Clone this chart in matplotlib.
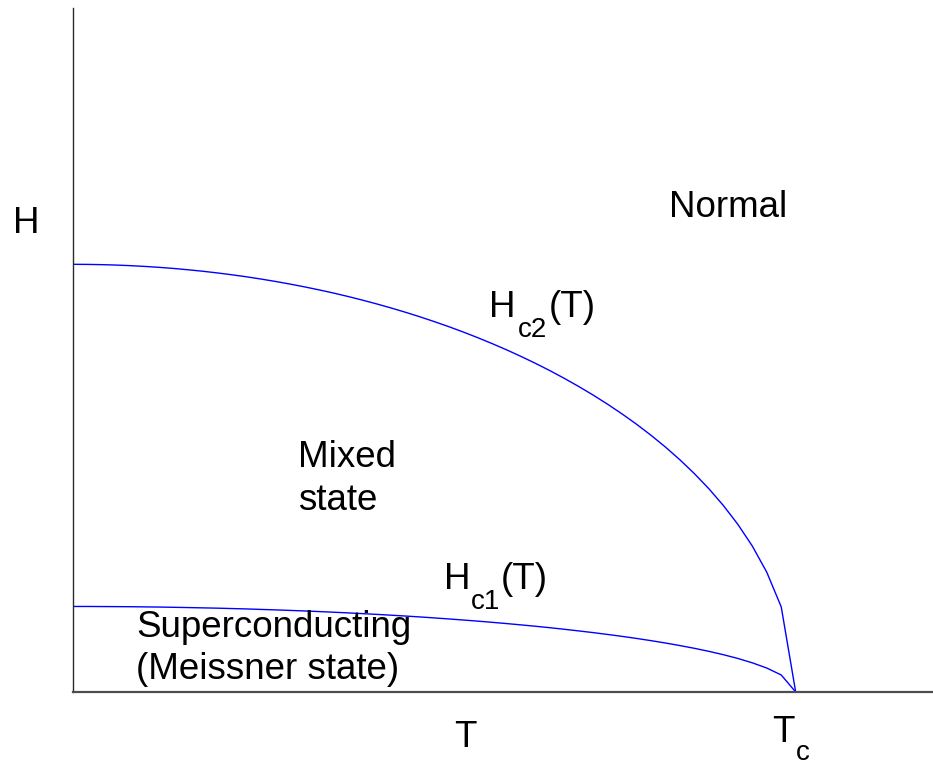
import numpy as np
import matplotlib
matplotlib.use("Agg")
import matplotlib.pyplot as plt

# Reduced temperature T/Tc, sampled every 0.02
temperature = np.linspace(0.0, 1.0, 51)

# Upper critical field Hc2(T) (normalised to Hc2(0))
hc2 = [1.0000, 0.9998, 0.9992, 0.9982, 0.9968, 0.9950, 0.9928, 0.9902, 0.9871,
       0.9837, 0.9798, 0.9755, 0.9708, 0.9656, 0.9600, 0.9539, 0.9474, 0.9404,
       0.9330, 0.9250, 0.9165, 0.9075, 0.8980, 0.8879, 0.8773, 0.8660, 0.8542,
       0.8417, 0.8285, 0.8146, 0.8000, 0.7846, 0.7684, 0.7513, 0.7332, 0.7141,
       0.6940, 0.6726, 0.6499, 0.6258, 0.6000, 0.5724, 0.5426, 0.5103, 0.4750,
       0.4359, 0.3919, 0.3412, 0.2800, 0.1990, 0.0000]

# Lower critical field Hc1(T)
hc1 = [0.2000, 0.2000, 0.1998, 0.1996, 0.1994, 0.1990, 0.1986, 0.1980, 0.1974,
       0.1967, 0.1960, 0.1951, 0.1942, 0.1931, 0.1920, 0.1908, 0.1895, 0.1881,
       0.1866, 0.1850, 0.1833, 0.1815, 0.1796, 0.1776, 0.1755, 0.1732, 0.1708,
       0.1683, 0.1657, 0.1629, 0.1600, 0.1569, 0.1537, 0.1503, 0.1466, 0.1428,
       0.1388, 0.1345, 0.1300, 0.1252, 0.1200, 0.1145, 0.1085, 0.1021, 0.0950,
       0.0872, 0.0784, 0.0682, 0.0560, 0.0398, 0.0000]

FONT = "Liberation Sans"
SIZE = 26.5
SUB = 20

fig = plt.figure(figsize=(9.33, 7.64), dpi=100)
ax = fig.add_axes([73 / 933, 72 / 764, 860 / 933, 684.3 / 764])

ax.plot(temperature, hc2, color=(0, 0, 1), lw=1.0)
ax.plot(temperature, hc1, color=(0, 0, 1), lw=1.0)

ax.set_xlim(0, 1.19)
ax.set_ylim(0, 1.6)
ax.set_xticks([])
ax.set_yticks([])
for side in ("top", "right"):
    ax.spines[side].set_visible(False)
ax.spines["left"].set_color("#2a2a2a")
ax.spines["left"].set_linewidth(1.0)
ax.spines["bottom"].set_color("#4d4d4d")
ax.spines["bottom"].set_linewidth(1.6)


def label(x, y, s, size=SIZE):
    ax.text(x, y, s, fontsize=size, family=FONT, ha="left", va="baseline",
            color="black", clip_on=False)


# Region names
label(0.825, 1.110, "Normal")
label(0.311, 0.525, "Mixed")
label(0.311, 0.4255, "state")
label(0.087, 0.128, "Superconducting")
label(0.087, 0.030, "(Meissner state)")

# Critical field curve labels
label(0.576, 0.8768, "H")
label(0.615, 0.8300, "c2", SUB)
label(0.658, 0.8768, "(T)")

label(0.514, 0.2408, "H")
label(0.550, 0.1941, "c1", SUB)
label(0.592, 0.2408, "(T)")

# Axis labels
label(0.527, -0.1279, "T")
label(0.967, -0.1162, "T")
label(1.000, -0.1590, "c", SUB)
fig.text(13 / 933, (764 - 232.7) / 764, "H", fontsize=SIZE, family=FONT,
         ha="left", va="baseline")

fig.savefig("out.png", dpi=100, facecolor="white")
